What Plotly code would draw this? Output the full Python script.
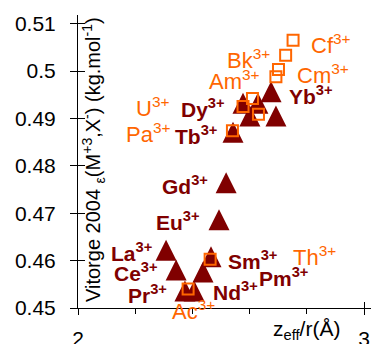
import plotly.graph_objects as go

# ---------------- data ----------------
# Lanthanides M3+ (filled triangles)
ln_names = ["La", "Ce", "Pr", "Nd", "Pm", "Sm", "Eu", "Gd", "Tb", "Dy", "Ho", "Er", "Tm", "Yb"]
ln_x = [2.308, 2.343, 2.374, 2.406, 2.437, 2.465, 2.493, 2.518, 2.542, 2.577, 2.601, 2.629, 2.692, 2.675]
ln_y = [0.4622, 0.4580, 0.4536, 0.4536, 0.4576, 0.4608, 0.4686, 0.4764, 0.4871, 0.4932, 0.4905, 0.4932, 0.4905, 0.4956]

# Actinides M3+ (open squares)
an_names = ["Ac", "Th", "Pa", "U", "Np", "Pu", "Am", "Cm", "Bk", "Cf"]
an_x = [2.385, 2.462, 2.540, 2.577, 2.610, 2.631, 2.692, 2.701, 2.726, 2.752]
an_y = [0.4540, 0.4603, 0.4874, 0.4925, 0.4942, 0.4909, 0.4988, 0.5003, 0.5033, 0.5065]

# tick labels
x_tickvals = [2, 3]
x_ticktext = ["2", "3"]
y_tickvals = [0.45, 0.46, 0.47, 0.48, 0.49, 0.50, 0.51]
y_ticktext = ["0.45", "0.46", "0.47", "0.48", "0.49", "0.5", "0.51"]

# labelled points: (name, anchor side, xshift px, yshift px)
ln_labels = [("La", "right", -14, -2), ("Ce", "right", -18, -1.5), ("Pr", "right", -18, -3.5),
             ("Nd", "left", 19, 0), ("Pm", "left", 56, -5), ("Sm", "left", 17, -3.5),
             ("Eu", "right", -19, -1.5), ("Gd", "right", -18, -2), ("Tb", "right", -16, -2.5),
             ("Dy", "right", -18, -4.5), ("Yb", "left", 18, -3)]
an_labels = [("Cf", "left", 18, -4), ("Cm", "left", 18.5, -4.5), ("Bk", "right", -15.5, -4),
             ("Am", "right", -16, -3), ("U", "right", -74, 0), ("Pa", "right", -62.5, -2.5),
             ("Th", "left", 83, 3.5), ("Ac", "left", -16, -20.5)]

# ---------------- layout geometry ----------------
W, H = 371, 344
ML, MR, MT, MB = 78, 0, 15, 36
PH = H - MT - MB
PW = W - ML - MR
x_range = [2.0, 2.0 + PW / 286.0]
y_range = [0.45, 0.45 + PH / 4740.0]
RY = y_range[1] - y_range[0]

DARK = "#800000"
ORANGE = "#FF6600"
FONT = "Liberation Sans, Arial, sans-serif"
TRI = 21  # triangle marker size (arrow-up: width = height = size)
# arrow-up symbol has its apex at the data point; shift its axis so the triangle is centred
d = (TRI / 2.0) * RY / PH
y_range_tri = [y_range[0] - d, y_range[1] - d]

fig = go.Figure()
fig.add_trace(go.Scatter(
    x=ln_x, y=ln_y, mode="markers", xaxis="x", yaxis="y",
    marker=dict(symbol="arrow-up", size=TRI, color=DARK, line=dict(width=0)),
    showlegend=False, hoverinfo="skip", cliponaxis=False))
fig.add_trace(go.Scatter(
    x=an_x, y=an_y, mode="markers", xaxis="x", yaxis="y2",
    marker=dict(symbol="square-open", size=11, color=ORANGE, line=dict(width=2, color=ORANGE)),
    showlegend=False, hoverinfo="skip", cliponaxis=False))
fig.add_trace(go.Scatter(x=[], y=[], xaxis="x2", yaxis="y3", showlegend=False))

tickfont = dict(family=FONT, size=21, color="black")
fig.update_layout(
    width=W, height=H, margin=dict(l=ML, r=MR, t=MT, b=MB, autoexpand=False),
    paper_bgcolor="white", plot_bgcolor="white", showlegend=False,
    xaxis=dict(range=x_range, showgrid=False, zeroline=False, showline=True, linecolor="black",
               linewidth=1, ticks="outside", ticklen=6, tickwidth=1, tickcolor="black",
               tickvals=x_tickvals, ticktext=x_ticktext, tickfont=tickfont, ticklabelstandoff=6,
               automargin=False,
               minor=dict(tickmode="linear", tick0=2, dtick=0.2, ticks="outside", ticklen=5,
                          tickwidth=1, tickcolor="black")),
    xaxis2=dict(range=x_range, overlaying="x", anchor="y2", showgrid=False, zeroline=False,
                showline=False, ticks="inside", ticklen=6, tickwidth=1, tickcolor="black",
                tickvals=x_tickvals, showticklabels=False, automargin=False),
    yaxis=dict(range=y_range_tri, visible=False, showgrid=False, zeroline=False, automargin=False),
    yaxis2=dict(range=y_range, overlaying="y", anchor="x", side="left", showgrid=False,
                zeroline=False, showline=True, linecolor="black", linewidth=1,
                ticks="outside", ticklen=7, tickwidth=1, tickcolor="black", automargin=False,
                tickvals=y_tickvals, ticktext=y_ticktext, tickfont=tickfont, ticklabelstandoff=10),
    yaxis3=dict(range=y_range, overlaying="y", anchor="x", side="left", showgrid=False,
                zeroline=False, showline=False, ticks="inside", ticklen=7, tickwidth=1,
                tickcolor="black", tickvals=y_tickvals, showticklabels=False, automargin=False),
)

annotations = []
for name, side, xs, ys in ln_labels:
    i = ln_names.index(name)
    annotations.append(dict(
        x=ln_x[i], y=ln_y[i], xref="x", yref="y2", text=f"<b>{name}<sup>3+</sup></b>",
        showarrow=False, xanchor=side, yanchor="middle", xshift=xs, yshift=ys,
        borderpad=0, borderwidth=0, font=dict(family=FONT, size=21, color=DARK)))
for name, side, xs, ys in an_labels:
    i = an_names.index(name)
    annotations.append(dict(
        x=an_x[i], y=an_y[i], xref="x", yref="y2", text=f"{name}<sup>3+</sup>",
        showarrow=False, xanchor=side, yanchor="middle", xshift=xs, yshift=ys,
        borderpad=0, borderwidth=0, font=dict(family=FONT, size=22, color=ORANGE)))

# axis titles
annotations.append(dict(
    x=(306 - ML) / PW, y=-(317 - (H - MB)) / PH, xref="paper", yref="paper",
    text="z<sub>eff</sub>/r(Å)", showarrow=False, xanchor="center", yanchor="top",
    borderpad=0, borderwidth=0, font=dict(family=FONT, size=21, color="black")))
annotations.append(dict(
    x=(93 - ML) / PW, y=(H - MB - 160) / PH, xref="paper", yref="paper",
    text="Vitorge 2004 <sub>ε</sub>(M<sup>+3</sup>,X<sup>-</sup>) (kg.mol<sup>-1</sup>)",
    textangle=-90, showarrow=False, xanchor="center", yanchor="middle",
    borderpad=0, borderwidth=0, font=dict(family=FONT, size=20, color="black")))
fig.update_layout(annotations=annotations)

fig.write_html("out.html")
